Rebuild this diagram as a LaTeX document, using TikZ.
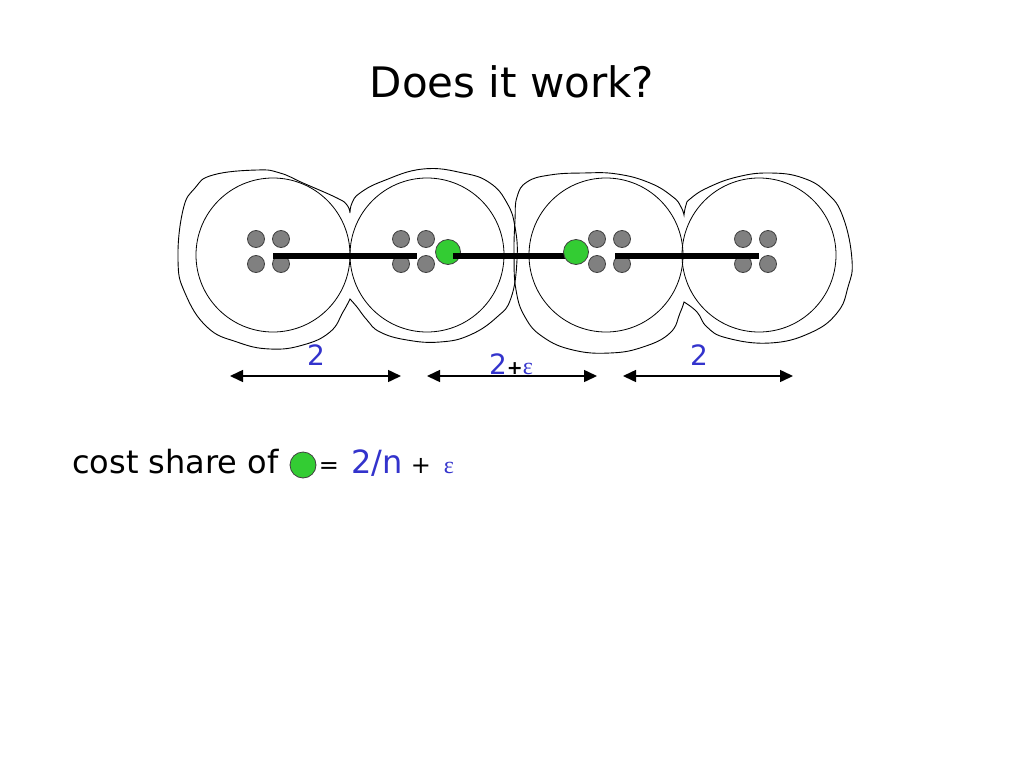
\documentclass[tikz,border=0pt]{standalone}
\usepackage{fontspec}
\setmainfont{DejaVu Sans}
\newfontfamily\epsfont{Liberation Serif}
\usepackage{tikz}
\usetikzlibrary{calc}
\usetikzlibrary{shapes}
\usetikzlibrary{arrows.meta}
\definecolor{dimblue}{RGB}{51,51,204}
\definecolor{dotgray}{RGB}{128,128,128}
\definecolor{dotgreen}{RGB}{51,204,51}
\tikzset{
  bigcirc/.style={circle, draw, line width=0.8pt, minimum size=154pt, inner sep=0pt},
  graydot/.style={circle, draw=black!75, fill=dotgray, line width=0.8pt, minimum size=17pt, inner sep=0pt},
  greendot/.style={circle, draw=black!75, fill=dotgreen, line width=0.8pt, minimum size=25pt, inner sep=0pt},
  bar/.style={line width=6.5pt},
  blob/.style={line width=0.9pt, smooth, tension=0.75},
  dimarrow/.style={line width=1.5pt, {Triangle[length=13pt,width=12pt]}-{Triangle[length=13pt,width=12pt]}},
  dimlabel/.style={text=dimblue, inner sep=0pt, anchor=base, font=\fontsize{28}{30}\selectfont},
  plain/.style={inner sep=0pt, font=\fontsize{32}{36}\selectfont}
}
\newcommand{\createdots}[3]{\foreach \k/\dx/\dy in {a/0/0,b/25/0,c/0/25,d/25/25} {\node[graydot] (#1\k) at ($(#2,#3)+(\dx,\dy)$) {};}}
\newcommand{\eps}[1]{{\epsfont\fontsize{#1}{#1}\selectfont ε}}

\begin{document}
\begin{tikzpicture}[x=1pt,y=-1pt]
    \useasboundingbox (0,0) rectangle (1024,768);
    \node[anchor=base, inner sep=0pt, font=\fontsize{42}{48}\selectfont] (title) at (512,97) {Does it work?};
    %outer blobs
    \draw[blob] plot coordinates {(350,213) (352,203) (360,193) (383,181) (423,169) (463,173) (490,183) (507,203) (515,227) (517,260) (511,298) (497,317) (470,335) (440,342) (407,340) (380,332) (367,320) (357,307) (350,299)}
        -- plot coordinates {(350,299) (343,312) (330,332) (303,345) (270,349) (237,342) (207,327) (185,293) (178,260) (183,210) (195,188) (213,175) (257,170) (280,173) (303,183) (337,198) (347,205) (350,213)} -- cycle;
    \draw[blob] plot coordinates {(684,215) (686,205) (690,199) (707,188) (737,177) (770,173) (803,178) (827,193) (843,217) (852,260) (848,287) (837,313) (810,333) (770,343) (727,338) (707,327) (697,312) (684,302)}
        -- plot coordinates {(684,302) (680,313) (670,333) (643,347) (610,353) (573,350) (543,337) (525,317) (516,290) (514,255) (515,220) (517,197) (527,182) (550,175) (583,173) (617,174) (650,183) (673,197) (681,207) (684,215)} -- cycle;
    %circles and dots
    \foreach \n/\cx in {1/273,2/427,3/606,4/759} {\node[bigcirc] (c\n) at (\cx,255) {};}
    \createdots{p}{256}{239}
    \createdots{q}{401}{239}
    \createdots{r}{597}{239}
    \createdots{s}{743}{239}
    %bars
    \coordinate (b1s) at (273,256); \coordinate (b1e) at (417,256);
    \coordinate (b2s) at (453,256); \coordinate (b2e) at (569,256);
    \coordinate (b3s) at (615,256); \coordinate (b3e) at (759,256);
    \draw[bar] (b1s) -- (b1e);
    \node[greendot] (g1) at (448,252) {};
    \draw[bar] (b2s) -- (b2e);
    \node[greendot] (g2) at (576,252) {};
    \draw[bar] (b3s) -- (b3e);
    %distances
    \coordinate (d1l) at (230,376); \coordinate (d1r) at (401,376);
    \coordinate (d2l) at (427,376); \coordinate (d2r) at (597,376);
    \coordinate (d3l) at (623,376); \coordinate (d3r) at (793,376);
    \draw[dimarrow] (d1l) -- (d1r);
    \draw[dimarrow] (d2l) -- (d2r);
    \draw[dimarrow] (d3l) -- (d3r);
    \node[dimlabel] (l1) at (316,365) {2};
    \node[dimlabel] (l2) at (511,374) {2{\color{black}\bfseries\fontsize{19}{20}\selectfont+}\eps{24}};
    \node[dimlabel] (l3) at (699,365) {2};
    %cost share
    \node[plain, anchor=base west] (cost) at (72,473) {cost share of};
    \node[greendot, minimum size=26pt] (g0) at (303,465) {};
    \node[plain, anchor=base, font=\fontsize{24}{26}\selectfont] (eq) at (329,473) {=};
    \node[plain, anchor=base west, text=dimblue] (frac) at (351,473) {2/n};
    \node[plain, anchor=base, font=\fontsize{24}{26}\selectfont] (plus) at (421,473) {+};
    \node[plain, anchor=base, text=dimblue] (eps) at (449,473) {\eps{24}};
\end{tikzpicture}
\end{document}
